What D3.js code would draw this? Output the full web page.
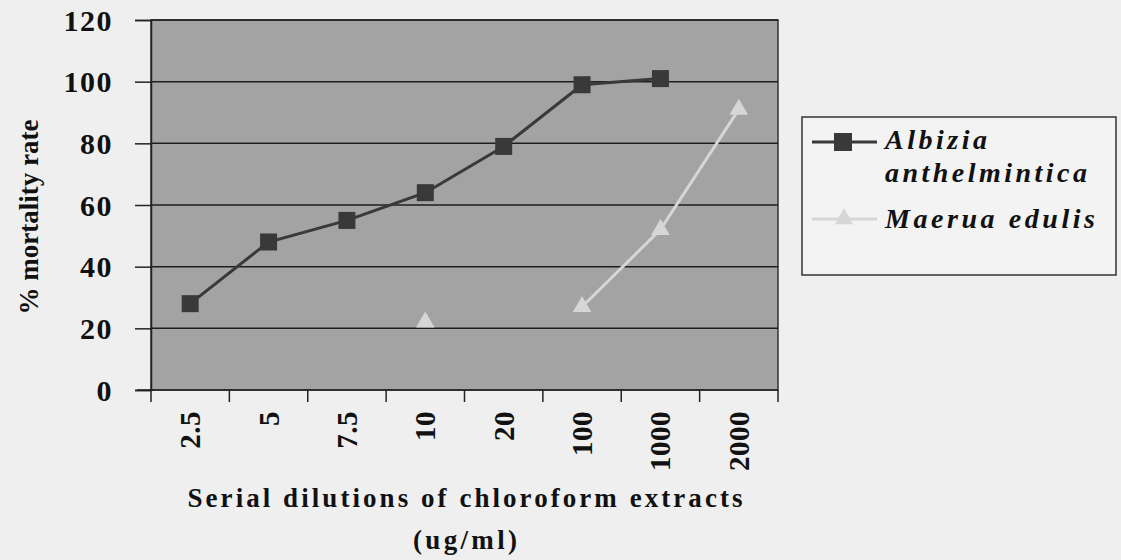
<!DOCTYPE html>
<html>
<head>
<meta charset="utf-8">
<script src="https://cdn.jsdelivr.net/npm/d3@7"></script>
<style>
  body { margin: 0; background: #efefef; }
  svg { display: block; font-family: "Liberation Serif", "DejaVu Serif", serif; }
</style>
</head>
<body>
<svg id="chart" width="1121" height="560"></svg>
<script>
const categories = ["2.5", "5", "7.5", "10", "20", "100", "1000", "2000"];
const albizia = [28, 48, 55, 64, 79, 99, 101, null];
const maerua = [null, null, null, 22, null, 27, 52, 91];
const yTicks = [0, 20, 40, 60, 80, 100, 120];

const svg = d3.select("#chart");
const plot = { left: 151, top: 20, right: 778, bottom: 390 };

const x = d3.scaleBand().domain(categories).range([plot.left, plot.right]);
const y = d3.scaleLinear().domain([0, 120]).range([plot.bottom, plot.top]);
const serif = "Liberation Serif";

// plot area
svg.append("rect")
  .attr("x", plot.left).attr("y", plot.top)
  .attr("width", plot.right - plot.left)
  .attr("height", plot.bottom - plot.top)
  .attr("fill", "#a3a3a3")
  .attr("stroke", "#333").attr("stroke-width", 1.5);

// gridlines
svg.append("g").selectAll("line")
  .data(yTicks.filter(d => d > 0))
  .join("line")
  .attr("x1", plot.left).attr("x2", plot.right)
  .attr("y1", d => y(d)).attr("y2", d => y(d))
  .attr("stroke", "#1e1e1e").attr("stroke-width", 1.5);

// y axis
const yAxis = svg.append("g")
  .attr("transform", `translate(${plot.left},0)`)
  .call(d3.axisLeft(y).tickValues(yTicks).tickSize(16).tickPadding(22));
yAxis.select(".domain").attr("stroke", "#222").attr("stroke-width", 1.5);
yAxis.selectAll(".tick line").attr("stroke", "#222").attr("stroke-width", 1.5);
yAxis.selectAll("text")
  .attr("font-size", 30).attr("font-weight", "bold")
  .attr("letter-spacing", 1.5).attr("fill", "#111")
  .attr("font-family", serif).attr("dy", "0.34em");

// x axis, ticks on category boundaries
const xAxis = svg.append("g")
  .attr("transform", `translate(0,${plot.bottom})`);
xAxis.append("line")
  .attr("x1", plot.left - 14).attr("x2", plot.right)
  .attr("stroke", "#222").attr("stroke-width", 1.5);
xAxis.selectAll(".xtick")
  .data(d3.range(categories.length + 1))
  .join("line")
  .attr("x1", i => plot.left + i * x.bandwidth())
  .attr("x2", i => plot.left + i * x.bandwidth())
  .attr("y1", 0).attr("y2", 12)
  .attr("stroke", "#222").attr("stroke-width", 1.5);
xAxis.selectAll(".xlab")
  .data(categories)
  .join("text")
  .attr("transform", d => `translate(${x(d) + x.bandwidth() / 2 + 10},21) rotate(-90)`)
  .attr("text-anchor", "end")
  .attr("font-size", 29).attr("font-weight", "bold")
  .attr("letter-spacing", 0.5).attr("fill", "#111")
  .text(d => d);

// axis titles
svg.append("text")
  .attr("transform", "translate(38,217) rotate(-90)")
  .attr("text-anchor", "middle")
  .attr("font-size", 27).attr("font-weight", "bold").attr("fill", "#111")
  .attr("textLength", 195).attr("lengthAdjust", "spacing")
  .text("% mortality rate");
svg.append("text")
  .attr("x", 465).attr("y", 507)
  .attr("text-anchor", "middle")
  .attr("font-size", 27).attr("font-weight", "bold").attr("fill", "#111")
  .attr("textLength", 555).attr("lengthAdjust", "spacing")
  .text("Serial dilutions of chloroform extracts");
svg.append("text")
  .attr("x", 465).attr("y", 549)
  .attr("text-anchor", "middle")
  .attr("font-size", 27).attr("font-weight", "bold").attr("fill", "#111")
  .attr("textLength", 104).attr("lengthAdjust", "spacing")
  .text("(ug/ml)");

// series
const cx = d => x(d) + x.bandwidth() / 2;
const line = d3.line()
  .defined(d => d.v !== null)
  .x(d => cx(d.c)).y(d => y(d.v));

const seriesA = categories.map((c, i) => ({ c, v: albizia[i] }));
const seriesM = categories.map((c, i) => ({ c, v: maerua[i] }));

const colA = "#393939", colM = "#d6d6d6";
const tri = d3.symbol().type(d3.symbolTriangle).size(150);

svg.append("path").datum(seriesA)
  .attr("d", line).attr("fill", "none")
  .attr("stroke", colA).attr("stroke-width", 3);
svg.append("g").selectAll("rect")
  .data(seriesA.filter(d => d.v !== null))
  .join("rect")
  .attr("x", d => cx(d.c) - 8.5).attr("y", d => y(d.v) - 8.5)
  .attr("width", 17).attr("height", 17)
  .attr("fill", colA);

svg.append("path").datum(seriesM)
  .attr("d", line).attr("fill", "none")
  .attr("stroke", colM).attr("stroke-width", 3);
svg.append("g").selectAll("path")
  .data(seriesM.filter(d => d.v !== null))
  .join("path")
  .attr("transform", d => `translate(${cx(d.c)},${y(d.v)})`)
  .attr("d", tri)
  .attr("fill", colM);

// legend
const lg = svg.append("g");
lg.append("rect")
  .attr("x", 802).attr("y", 117).attr("width", 314).attr("height", 158)
  .attr("fill", "#f3f3f3").attr("stroke", "#333").attr("stroke-width", 1.5);
lg.append("line").attr("x1", 812).attr("x2", 877).attr("y1", 142).attr("y2", 142)
  .attr("stroke", colA).attr("stroke-width", 3);
lg.append("rect").attr("x", 834).attr("y", 133).attr("width", 18).attr("height", 18)
  .attr("fill", colA);
lg.append("line").attr("x1", 812).attr("x2", 877).attr("y1", 219).attr("y2", 219)
  .attr("stroke", colM).attr("stroke-width", 3);
lg.append("path").attr("transform", "translate(844,219)").attr("d", tri).attr("fill", colM);

const legendText = [
  { t: "Albizia", y: 149, w: 102 },
  { t: "anthelmintica", y: 182, w: 202 },
  { t: "Maerua edulis", y: 228, w: 210 }
];
lg.selectAll(".lt").data(legendText).join("text")
  .attr("x", 885).attr("y", d => d.y)
  .attr("font-size", 28).attr("font-style", "italic").attr("font-weight", "bold")
  .attr("textLength", d => d.w).attr("lengthAdjust", "spacing")
  .attr("fill", "#111")
  .text(d => d.t);
</script>
</body>
</html>
